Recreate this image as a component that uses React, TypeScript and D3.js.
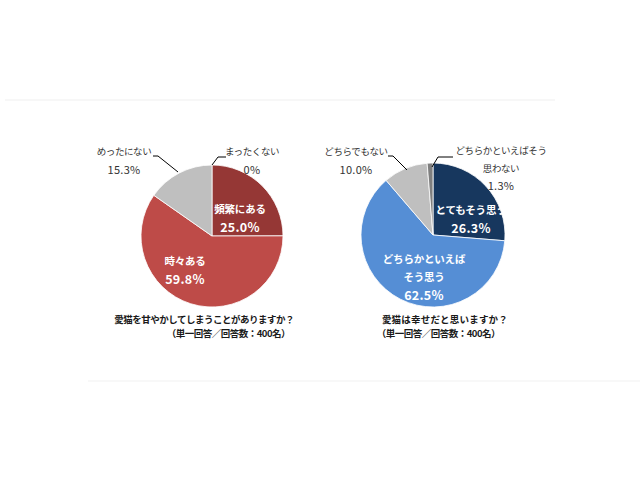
import React from "react";
import * as d3 from "d3";

const q1Categories = ["頻繁にある", "時々ある", "めったにない", "まったくない"];
const q1Values = [25.0, 59.8, 15.3, 0];
const q1Colors = ["#953735", "#BE4B48", "#BFBFBF", "#7F7F7F"];
const q1Title = "愛猫を甘やかしてしまうことがありますか？";

const q2Categories = ["とてもそう思う", "どちらかといえばそう思う", "どちらでもない", "どちらかといえばそう思わない"];
const q2Values = [26.3, 62.5, 10.0, 1.3];
const q2Colors = ["#17375E", "#558ED5", "#BFBFBF", "#7F7F7F"];
const q2Title = "愛猫は幸せだと思いますか？";

const subTitle = "（単一回答／回答数：400名）";

const FONT = "'Noto Sans CJK JP', 'Noto Sans', sans-serif";

type LabelSpec = {
  lines: string[];
  dx: number;
  dy: number;
  inside: boolean;
  leader?: [number, number][];
};

function fmt(v: number) {
  return v === 0 ? "0%" : v.toFixed(1) + "%";
}

const isNum = (t: string) => /^[0-9.%]+$/.test(t);

function Pie({
  cx,
  cy,
  r,
  values,
  colors,
  labels,
}: {
  cx: number;
  cy: number;
  r: number;
  values: number[];
  colors: string[];
  labels: LabelSpec[];
}) {
  const pie = d3.pie<number>().sort(null).value((d) => d);
  const arcs = pie(values);
  const arc = d3.arc<d3.PieArcDatum<number>>().innerRadius(0).outerRadius(r);
  return (
    <g>
      <g transform={`translate(${cx},${cy})`}>
        {arcs.map((a, i) =>
          a.value > 0 ? (
            <path key={i} d={arc(a) || ""} fill={colors[i]} stroke="#ffffff" strokeWidth={0.8} />
          ) : null
        )}
      </g>
      {labels.map((l, i) => (
        <g key={i}>
          {l.leader && (
            <polyline
              points={l.leader.map((p) => `${cx + p[0]},${cy + p[1]}`).join(" ")}
              fill="none"
              stroke="#000"
              strokeWidth={1}
            />
          )}
          {l.lines.map((t, j) => {
            const num = isNum(t);
            const fs = l.inside ? (num ? 12.5 : 10.5) : num ? 11 : 9.5;
            return (
              <text
                key={j}
                x={cx + l.dx}
                y={cy + l.dy + j * (l.inside ? 18 : 17.5)}
                textAnchor="middle"
                dominantBaseline="central"
                fontFamily={FONT}
                fontSize={fs}
                letterSpacing={num ? 0.3 : l.inside ? -0.2 : -0.4}
                fontWeight={l.inside ? 700 : 400}
                fill={l.inside ? "#ffffff" : "#333333"}
              >
                {t}
              </text>
            );
          })}
        </g>
      ))}
    </g>
  );
}

export default function App() {
  const L = { cx: 212, cy: 236, r: 71 };
  const R = { cx: 433, cy: 235, r: 72 };

  const q1Labels: LabelSpec[] = [
    { lines: [q1Categories[0], fmt(q1Values[0])], dx: 28, dy: -28, inside: true },
    { lines: [q1Categories[1], fmt(q1Values[1])], dx: -27, dy: 24, inside: true },
    {
      lines: [q1Categories[2], fmt(q1Values[2])],
      dx: -88,
      dy: -85,
      inside: false,
      leader: [[-59, -80], [-54, -80], [-34, -64]],
    },
    {
      lines: [q1Categories[3], fmt(q1Values[3])],
      dx: 40,
      dy: -85,
      inside: false,
      leader: [[0, -71], [6, -79], [14, -79]],
    },
  ];

  const q2Labels: LabelSpec[] = [
    { lines: [q2Categories[0], fmt(q2Values[0])], dx: 38, dy: -26, inside: true },
    { lines: ["どちらかといえば", "そう思う", fmt(q2Values[1])], dx: -9, dy: 23, inside: true },
    {
      lines: [q2Categories[2], fmt(q2Values[2])],
      dx: -77,
      dy: -84,
      inside: false,
      leader: [[-45, -79], [-40, -79], [-26, -65]],
    },
    {
      lines: ["どちらかといえばそう", "思わない", fmt(q2Values[3])],
      dx: 68,
      dy: -85,
      inside: false,
      leader: [[-1, -68], [5, -78], [20, -78]],
    },
  ];

  const titleStyle = {
    fontFamily: FONT,
    fontSize: 9.5,
    fontWeight: 700,
    fill: "#1a1a1a",
  } as const;

  return (
    <svg
      width={640}
      height={480}
      style={{ position: "absolute", left: 0, top: 0, background: "#ffffff" }}
    >
      <rect x={0} y={0} width={640} height={480} fill="#ffffff" />
      <line x1={5} y1={100} x2={555} y2={100} stroke="#f7f7f7" strokeWidth={2} />
      <line x1={88} y1={381} x2={640} y2={381} stroke="#f8f8f8" strokeWidth={2} />
      <Pie cx={L.cx} cy={L.cy} r={L.r} values={q1Values} colors={q1Colors} labels={q1Labels} />
      <Pie cx={R.cx} cy={R.cy} r={R.r} values={q2Values} colors={q2Colors} labels={q2Labels} />

      <text x={294} y={318.5} textAnchor="end" dominantBaseline="central" letterSpacing={-0.5} {...titleStyle}>
        {q1Title}
      </text>
      <text x={290} y={333} textAnchor="end" dominantBaseline="central" letterSpacing={-0.5} {...titleStyle}>
        {subTitle}
      </text>
      <text x={508} y={318.5} textAnchor="end" dominantBaseline="central" letterSpacing={0.2} {...titleStyle}>
        {q2Title}
      </text>
      <text x={500} y={333} textAnchor="end" dominantBaseline="central" letterSpacing={-0.5} {...titleStyle}>
        {subTitle}
      </text>
    </svg>
  );
}
